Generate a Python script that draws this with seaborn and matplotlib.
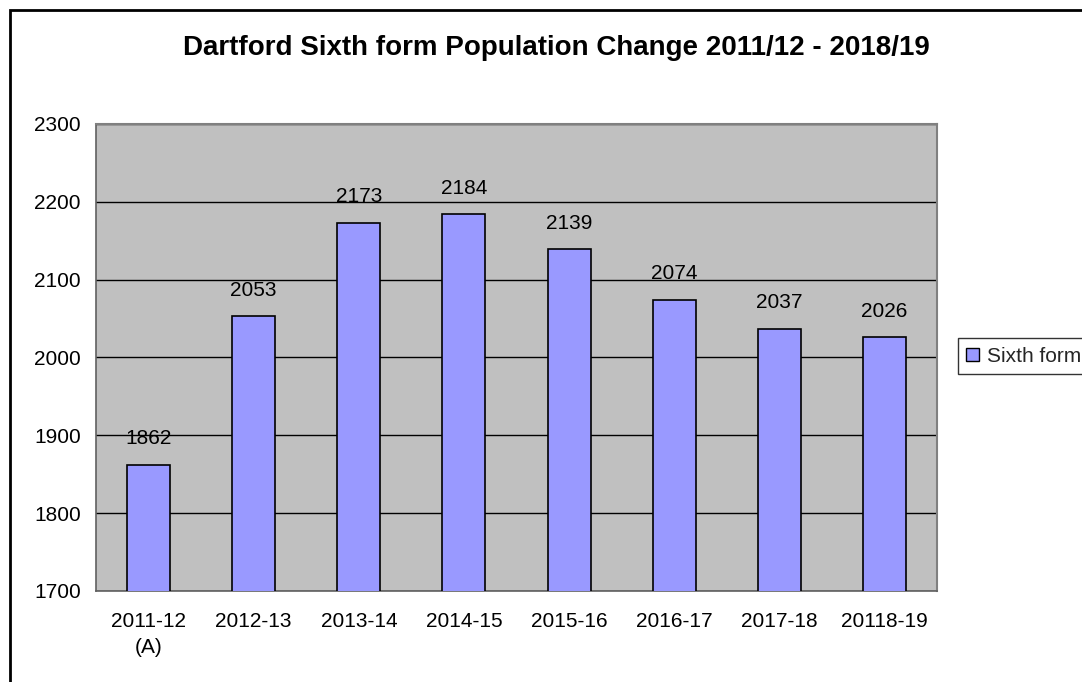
import matplotlib
matplotlib.use("Agg")
import matplotlib.pyplot as plt
import seaborn as sns
from matplotlib.patches import Rectangle, Patch

categories = ["2011-12\n(A)", "2012-13", "2013-14", "2014-15", "2015-16", "2016-17", "2017-18", "20118-19"]
values = [1862, 2053, 2173, 2184, 2139, 2074, 2037, 2026]
series_name = "Sixth form"
title = "Dartford Sixth form Population Change 2011/12 - 2018/19"

sns.set_theme(style="white")
plt.rcParams['font.family'] = ['Liberation Sans', 'DejaVu Sans']

W, H = 1082, 682
fig = plt.figure(figsize=(W / 100, H / 100), dpi=100)
fig.patch.set_facecolor("white")

ax = fig.add_axes([96 / W, 1 - 591 / H, (937 - 96) / W, (591 - 124) / H])
ax.set_facecolor("#C0C0C0")

sns.barplot(x=categories, y=values, color="#9999FF", edgecolor="black",
            linewidth=1.2, width=0.41, saturation=1, ax=ax, zorder=3)
ax.set_ylim(1700, 2300)
ax.set_xlim(-0.5, len(categories) - 0.5)
ax.set_yticks(range(1700, 2301, 100))
ax.yaxis.grid(True, color="black", linewidth=1, zorder=0)
ax.set_axisbelow(True)

for c in ax.containers:
    ax.bar_label(c, labels=[str(v) for v in values], padding=12, fontsize=15, color="black")

ax.set_xlabel("")
ax.set_ylabel("")
ax.tick_params(axis="x", which="major", length=0, pad=15, labelsize=15, colors="black")
for lbl in ax.get_xticklabels():
    lbl.set_linespacing(1.5)
ax.set_xticks([i - 0.5 for i in range(len(categories) + 1)], minor=True)
ax.tick_params(axis="x", which="minor", length=6, width=1, color="#404040", direction="out")
ax.tick_params(axis="y", which="major", length=6, width=1, color="#404040",
               direction="out", labelsize=15, pad=5, labelcolor="black")
for s in ["top", "right"]:
    ax.spines[s].set_color("#808080")
    ax.spines[s].set_linewidth(1.5)
for s in ["left", "bottom"]:
    ax.spines[s].set_color("#606060")
    ax.spines[s].set_linewidth(1.2)

fig.text(556 / W, 1 - 48 / H, title, ha="center", va="center",
         fontsize=20, fontweight="bold", color="black")

handles = [Patch(facecolor="#9999FF", edgecolor="black", linewidth=1, label=series_name)]
leg = fig.legend(handles=handles, loc="center left", bbox_to_anchor=(958 / W, 1 - 356 / H),
                 frameon=True, fontsize=15, handlelength=0.6, handleheight=0.6,
                 handletextpad=0.4, borderpad=0.4, borderaxespad=0, fancybox=False)
leg.get_frame().set_edgecolor("black")
leg.get_frame().set_linewidth(1)

border = Rectangle((10 / W, -0.2), 2, 1.2 - 10 / H, transform=fig.transFigure,
                   fill=False, edgecolor="black", linewidth=2)
fig.patches.append(border)

fig.savefig("out.png", dpi=100, facecolor="white")
